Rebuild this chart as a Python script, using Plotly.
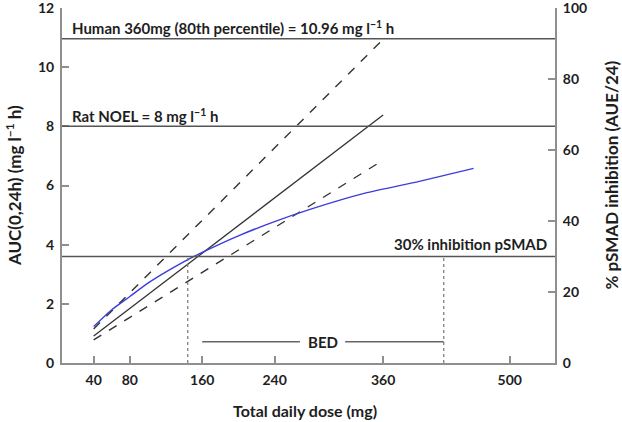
import plotly.graph_objects as go

# doses (mg) and AUC(0,24h) values
line_dose = [40, 360]
auc_mean = [0.91, 8.38]
upper_dose = [40, 357]
auc_upper = [1.15, 10.85]
lower_dose = [40, 356]
auc_lower = [0.78, 6.78]

pd_dose = [40, 60, 80, 100, 120, 140, 160, 200, 240, 280, 340, 400, 460]
pd_auc = [1.23, 1.8, 2.25, 2.7, 3.08, 3.43, 3.74, 4.3, 4.78, 5.2, 5.74, 6.14, 6.58]

human_auc = 10.96
rat_noel = 8
inhib30 = 3.6

bed_dose = [144, 427]
bed_left = [160, 268]
bed_right = [318, 427]
bed_y = 0.72
bed_label_x = 293

xticks = [40, 80, 160, 240, 360, 500]

FONT = "Lato"
dark = "#333333"
grid = "#555555"
axis_col = "#8f8f8f"
txt = "#1e1e1e"

fig = go.Figure()

fig.add_trace(go.Scatter(x=upper_dose, y=auc_upper, mode="lines",
                         line=dict(color=dark, width=1.4, dash="dash"), showlegend=False))
fig.add_trace(go.Scatter(x=lower_dose, y=auc_lower, mode="lines",
                         line=dict(color=dark, width=1.4, dash="dash"), showlegend=False))
fig.add_trace(go.Scatter(x=line_dose, y=auc_mean, mode="lines",
                         line=dict(color=dark, width=1.3), showlegend=False))
fig.add_trace(go.Scatter(x=pd_dose, y=pd_auc, mode="lines", line_shape="spline",
                         line=dict(color="#3c3cdc", width=1.4, smoothing=0.6), showlegend=False))

# dotted BED boundaries
for d in bed_dose:
    fig.add_trace(go.Scatter(x=[d, d], y=[0, inhib30], mode="lines",
                             line=dict(color="#777777", width=1.2, dash="dot"), showlegend=False))
fig.add_trace(go.Scatter(x=bed_left + [None] + bed_right, y=[bed_y, bed_y, None, bed_y, bed_y],
                         mode="lines", line=dict(color="#666666", width=1.5), showlegend=False))

for yv in [human_auc, rat_noel, inhib30]:
    fig.add_hline(y=yv, line=dict(color=grid, width=1.5))

# dummy trace so the right axis is drawn
fig.add_trace(go.Scatter(x=[None], y=[None], yaxis="y2", showlegend=False))

tf = dict(family=FONT, size=15, color=txt, weight="bold")
fig.add_annotation(x=0, xref="x domain", y=human_auc, yshift=11, xshift=8, xanchor="left",
                   text="Human 360mg (80th percentile) = 10.96 mg l<sup>−1</sup> h",
                   showarrow=False, font=tf)
fig.add_annotation(x=0, xref="x domain", y=rat_noel, yshift=11, xshift=8, xanchor="left",
                   text="Rat NOEL = 8 mg l<sup>−1</sup> h", showarrow=False, font=tf)
fig.add_annotation(x=1, xref="x domain", y=inhib30, yshift=13, xshift=-6, xanchor="right",
                   text="30% inhibition pSMAD", showarrow=False, font=tf)
fig.add_annotation(x=bed_label_x, y=bed_y, text="BED", showarrow=False, font=tf)

# axis titles
fig.add_annotation(x=0.493, y=-0.135, xref="paper", yref="paper", showarrow=False,
                   xanchor="center", yanchor="middle",
                   text="Total daily dose (mg)", font=dict(family=FONT, size=16, color=txt, weight="bold"))
fig.add_annotation(x=-0.097, y=0.499, xref="paper", yref="paper", showarrow=False, textangle=-90,
                   xanchor="center", yanchor="middle",
                   text="AUC(0,24h) (mg l<sup>−1</sup> h)", font=dict(family=FONT, size=17, color=txt, weight="bold"))
fig.add_annotation(x=1.115, y=0.53, xref="paper", yref="paper", showarrow=False, textangle=-90,
                   xanchor="center", yanchor="middle",
                   text="% pSMAD inhibition (AUE/24)", font=dict(family=FONT, size=17, color=txt, weight="bold"))

axfont = dict(family=FONT, size=14, color=txt, weight="bold")
common = dict(ticks="inside", ticklen=7, tickcolor=axis_col, tickwidth=1.5, showline=True,
              linecolor=axis_col, linewidth=2, showgrid=False, zeroline=False,
              tickfont=axfont, automargin=False, ticklabeloverflow="allow")
fig.update_layout(
    width=622, height=422,
    margin=dict(l=62, r=67, t=8, b=59),
    plot_bgcolor="white", paper_bgcolor="white",
    xaxis=dict(range=[5, 550], tickvals=xticks, ticklabelstandoff=3, **common),
    yaxis=dict(range=[0, 12], dtick=2, ticklabelstandoff=3, **common),
    yaxis2=dict(range=[0, 100], dtick=20, overlaying="y", side="right", ticklabelstandoff=3, **common),
)

# page has the default 8px body margin; drop it so the figure sits at the corner
fig.write_html("out.html", config={"displayModeBar": False},
               post_script="document.body.style.margin='0';")
